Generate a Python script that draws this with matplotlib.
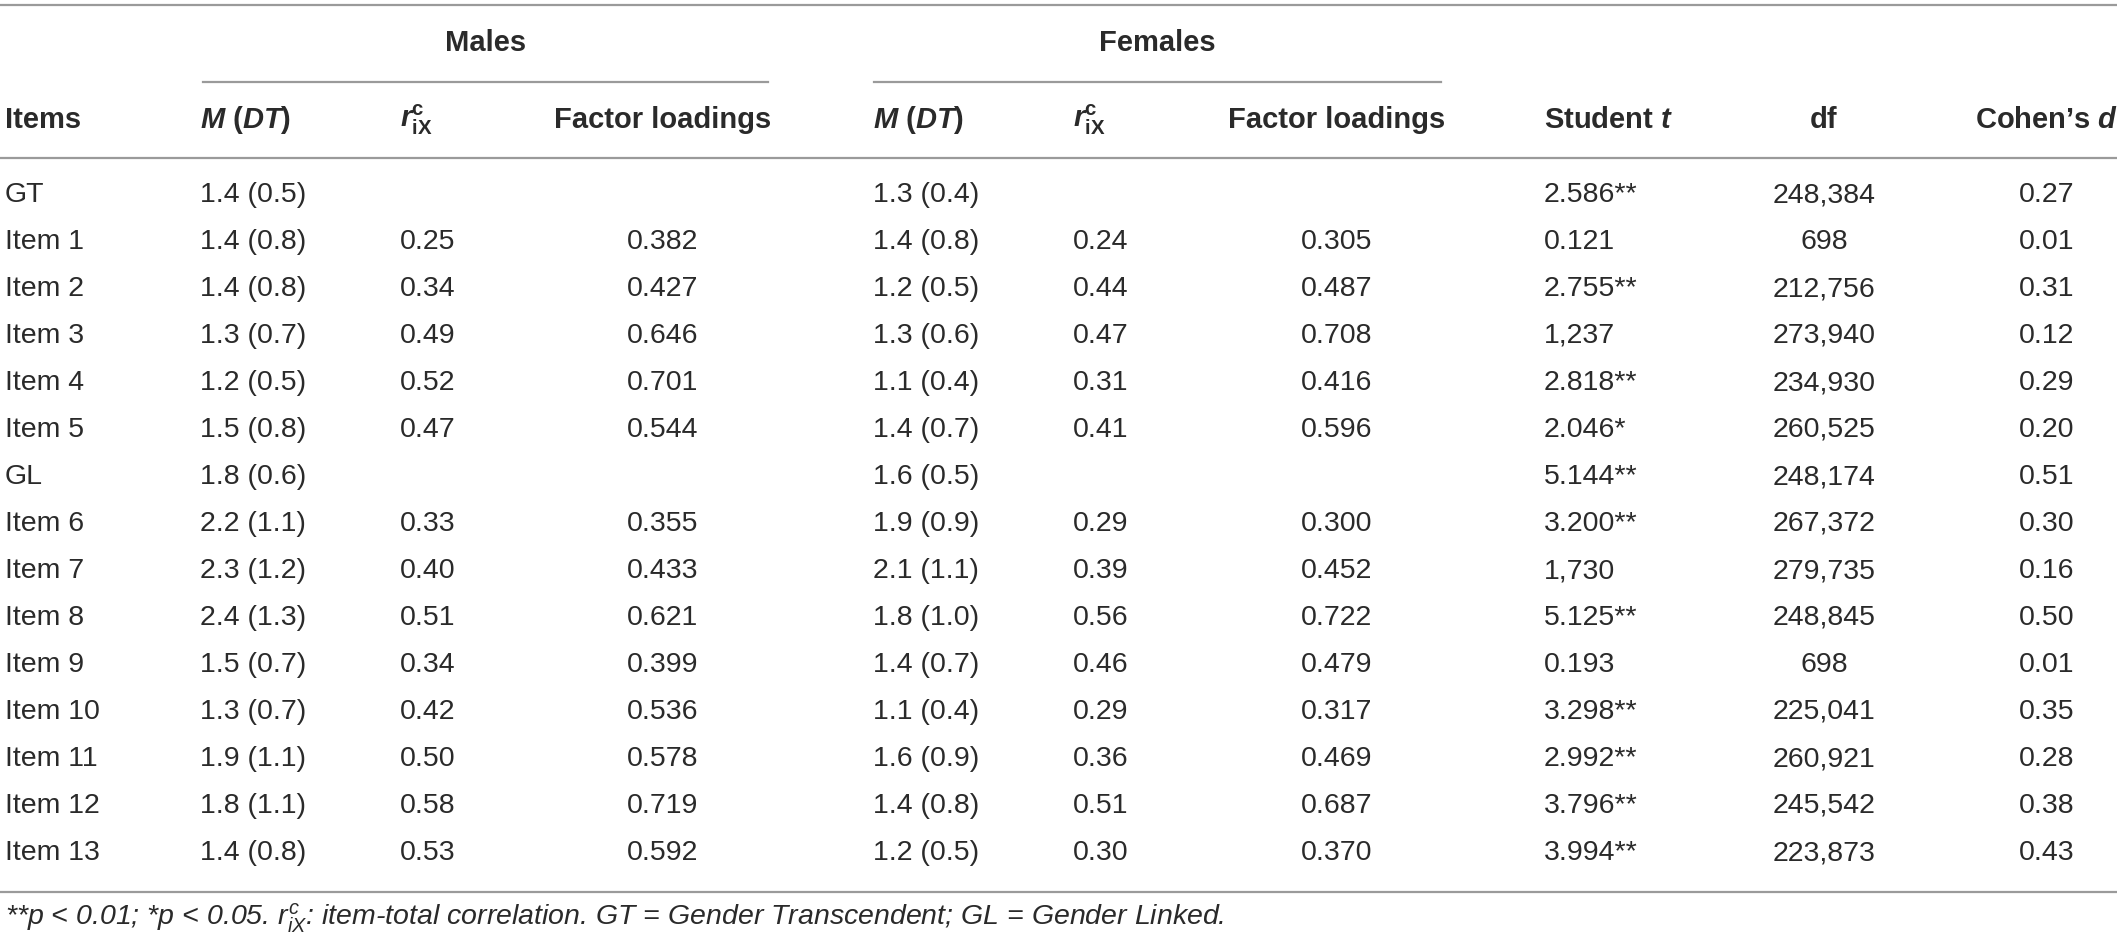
import matplotlib.pyplot as plt
from matplotlib import font_manager

# pick a narrow sans if there is one
names = set(f.name for f in font_manager.fontManager.ttflist)
FONT = "Liberation Sans Narrow" if "Liberation Sans Narrow" in names else "Liberation Sans"

plt.rcParams["font.family"] = [FONT, "DejaVu Sans"]
plt.rcParams["mathtext.fontset"] = "custom"
plt.rcParams["mathtext.rm"] = FONT
plt.rcParams["mathtext.it"] = "Liberation Sans:italic"
plt.rcParams["mathtext.bf"] = FONT + ":bold"
plt.rcParams["mathtext.bfit"] = FONT + ":italic:bold"

# table data
items = ["GT", "Item 1", "Item 2", "Item 3", "Item 4", "Item 5", "GL",
         "Item 6", "Item 7", "Item 8", "Item 9", "Item 10", "Item 11", "Item 12", "Item 13"]
male_mdt = ["1.4 (0.5)", "1.4 (0.8)", "1.4 (0.8)", "1.3 (0.7)", "1.2 (0.5)", "1.5 (0.8)", "1.8 (0.6)",
            "2.2 (1.1)", "2.3 (1.2)", "2.4 (1.3)", "1.5 (0.7)", "1.3 (0.7)", "1.9 (1.1)", "1.8 (1.1)", "1.4 (0.8)"]
male_r = ["", "0.25", "0.34", "0.49", "0.52", "0.47", "",
          "0.33", "0.40", "0.51", "0.34", "0.42", "0.50", "0.58", "0.53"]
male_fl = ["", "0.382", "0.427", "0.646", "0.701", "0.544", "",
           "0.355", "0.433", "0.621", "0.399", "0.536", "0.578", "0.719", "0.592"]
female_mdt = ["1.3 (0.4)", "1.4 (0.8)", "1.2 (0.5)", "1.3 (0.6)", "1.1 (0.4)", "1.4 (0.7)", "1.6 (0.5)",
              "1.9 (0.9)", "2.1 (1.1)", "1.8 (1.0)", "1.4 (0.7)", "1.1 (0.4)", "1.6 (0.9)", "1.4 (0.8)", "1.2 (0.5)"]
female_r = ["", "0.24", "0.44", "0.47", "0.31", "0.41", "",
            "0.29", "0.39", "0.56", "0.46", "0.29", "0.36", "0.51", "0.30"]
female_fl = ["", "0.305", "0.487", "0.708", "0.416", "0.596", "",
             "0.300", "0.452", "0.722", "0.479", "0.317", "0.469", "0.687", "0.370"]
student_t = ["2.586**", "0.121", "2.755**", "1,237", "2.818**", "2.046*", "5.144**",
             "3.200**", "1,730", "5.125**", "0.193", "3.298**", "2.992**", "3.796**", "3.994**"]
df = ["248,384", "698", "212,756", "273,940", "234,930", "260,525", "248,174",
      "267,372", "279,735", "248,845", "698", "225,041", "260,921", "245,542", "223,873"]
cohen_d = ["0.27", "0.01", "0.31", "0.12", "0.29", "0.20", "0.51",
           "0.30", "0.16", "0.50", "0.01", "0.35", "0.28", "0.38", "0.43"]

headers = ["Items", r"$\mathbfit{M}$ ($\mathbfit{DT}$)", r"$\mathbfit{r}^{\mathbf{c}}_{\mathbf{iX}}$",
           "Factor loadings", r"$\mathbfit{M}$ ($\mathbfit{DT}$)", r"$\mathbfit{r}^{\mathbf{c}}_{\mathbf{iX}}$",
           "Factor loadings", r"Student $\mathbfit{t}$", "df", r"Cohen’s $\mathbfit{d}$"]
columns = [items, male_mdt, male_r, male_fl, female_mdt, female_r, female_fl, student_t, df, cohen_d]

col_x = [5, 200, 400, 663, 873, 1073, 1337, 1544, 1824, 2047]
col_ha = ["left", "left", "left", "center", "left", "left", "center", "left", "center", "center"]

W, H = 2117, 942
TXT = "#2a2a2a"
LINE = "#9a9a9a"

fig = plt.figure(figsize=(W / 100, H / 100), dpi=100)
ax = fig.add_axes([0, 0, 1, 1])
ax.set_xlim(0, W)
ax.set_ylim(H, 0)
ax.axis("off")

# rules
ax.plot([0, W], [5, 5], color=LINE, lw=1.6)
ax.plot([203, 768], [82, 82], color=LINE, lw=1.6)
ax.plot([874, 1441], [82, 82], color=LINE, lw=1.6)
ax.plot([0, W], [158, 158], color=LINE, lw=1.6)
ax.plot([0, W], [892, 892], color=LINE, lw=1.6)

# group headers
ax.text(486, 43, "Males", ha="center", va="center", fontsize=21, fontweight="bold", color=TXT)
ax.text(1157, 43, "Females", ha="center", va="center", fontsize=21, fontweight="bold", color=TXT)

# column headers
for x, ha, h in zip(col_x, col_ha, headers):
    ax.text(x, 120, h, ha=ha, va="center", fontsize=21, fontweight="bold", color=TXT)

# body
for x, ha, col in zip(col_x, col_ha, columns):
    for i, v in enumerate(col):
        ax.text(x, 195 + 47 * i, v, ha=ha, va="center", fontsize=20.5, color=TXT)

# footnote
ax.text(5, 918, r"**$p$ < 0.01; *$p$ < 0.05. $r^{c}_{iX}$: item-total correlation. "
        "GT = Gender Transcendent; GL = Gender Linked.",
        ha="left", va="center", fontsize=20.5, style="italic", color=TXT,
        family=["Liberation Sans", "DejaVu Sans"])

fig.savefig("out.png", dpi=100)
